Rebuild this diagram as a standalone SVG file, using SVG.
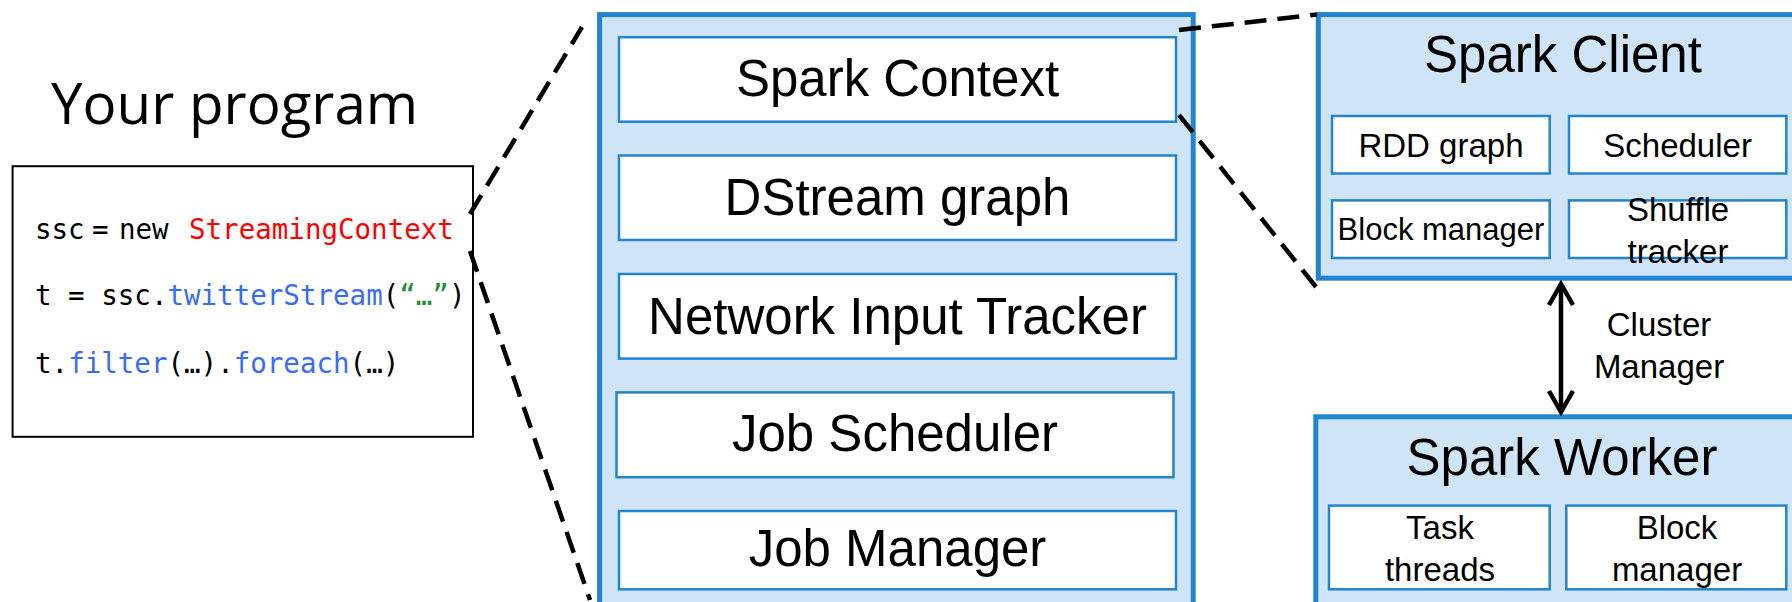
<svg xmlns="http://www.w3.org/2000/svg" width="1792" height="602" viewBox="0 0 1792 602">
<defs>
<style>
.panel{fill:#CFE4F7;stroke:#2384D0;stroke-width:5}
.box{fill:#FFFFFF;stroke:#2384D0;stroke-width:2.5}
.big{font-family:"Liberation Sans",Arial,sans-serif;font-size:51px;fill:#000;text-anchor:middle}
.small{font-family:"Liberation Sans",Arial,sans-serif;font-size:33px;fill:#000;text-anchor:middle}
.code{font-family:"DejaVu Sans Mono","Liberation Mono",monospace;font-size:27.5px;fill:#000}
.red{fill:#FF0000}
.blue{fill:#3A6CF2}
.green{fill:#1E8F3A}
.dash{fill:none;stroke:#000;stroke-width:4.5;stroke-dasharray:22 11}
.arrow{fill:none;stroke:#000;stroke-width:4.5}
</style>
<marker id="chev" viewBox="-26 -15 30 30" refX="0" refY="0" markerWidth="30" markerHeight="30" markerUnits="userSpaceOnUse" orient="auto-start-reverse">
<path d="M -21 -12 L 0 0 L -21 12" fill="none" stroke="#000" stroke-width="4.5"/>
</marker>
</defs>
<rect width="1792" height="602" fill="#FFFFFF"/>

<g id="your-program">
<text x="51" y="123.6" style="font-family:'Open Sans','Noto Sans',sans-serif;font-size:56.5px;fill:#000">Your program</text>
<rect x="12.6" y="166.2" width="460.4" height="270.6" fill="#FFFFFF" stroke="#000" stroke-width="2"/>
<text class="code" y="239.3"><tspan x="35">ssc</tspan><tspan x="92">=</tspan><tspan x="119">new</tspan><tspan x="189" class="red">StreamingContext</tspan></text>
<text class="code" x="35" y="305">t = ssc.<tspan class="blue">twitterStream</tspan>(<tspan class="green">“…”</tspan>)</text>
<text class="code" x="35" y="373.3">t.<tspan class="blue">filter</tspan>(…).<tspan class="blue">foreach</tspan>(…)</text>
</g>

<g id="streaming-context">
<rect class="panel" x="599.6" y="14.6" width="593.6" height="600"/>
<g id="spark-context">
<rect class="box" x="619" y="37.2" width="557" height="84.5"/>
<text class="big" x="897.5" y="96">Spark Context</text>
</g>
<g id="dstream-graph">
<rect class="box" x="619" y="155.5" width="557" height="84.5"/>
<text class="big" x="897.5" y="215">DStream graph</text>
</g>
<g id="network-input-tracker">
<rect class="box" x="619" y="274" width="557" height="84.6"/>
<text class="big" x="897.5" y="333.5">Network Input Tracker</text>
</g>
<g id="job-scheduler">
<rect class="box" x="616.5" y="392.4" width="557" height="84.8"/>
<text class="big" x="895" y="451">Job Scheduler</text>
</g>
<g id="job-manager">
<rect class="box" x="619" y="511" width="557" height="78.3"/>
<text class="big" x="897.5" y="566">Job Manager</text>
</g>
</g>

<g id="spark-client">
<rect class="panel" x="1318.3" y="14.6" width="520" height="263.6"/>
<text class="big" x="1563" y="72">Spark Client</text>
<g id="rdd-graph">
<rect class="box" x="1332" y="116" width="217.7" height="57.5"/>
<text class="small" x="1441" y="156.6">RDD graph</text>
</g>
<g id="scheduler">
<rect class="box" x="1569" y="116" width="217.3" height="57.5"/>
<text class="small" x="1677.6" y="156.6">Scheduler</text>
</g>
<g id="client-block-manager">
<rect class="box" x="1332" y="200.4" width="217.7" height="57.6"/>
<text class="small" x="1441" y="240" style="font-size:31px">Block manager</text>
</g>
<g id="shuffle-tracker">
<rect class="box" x="1569" y="200.4" width="217.3" height="57.6"/>
<text class="small" x="1678" y="221">Shuffle</text>
<text class="small" x="1678" y="263">tracker</text>
</g>
</g>

<g id="spark-worker">
<rect class="panel" x="1315.8" y="416.8" width="520" height="300"/>
<text class="big" x="1562" y="475">Spark Worker</text>
<g id="task-threads">
<rect class="box" x="1329" y="505.6" width="220.7" height="83.7"/>
<text class="small" x="1440" y="539.4">Task</text>
<text class="small" x="1440" y="581">threads</text>
</g>
<g id="worker-block-manager">
<rect class="box" x="1566.3" y="505.6" width="220" height="83.7"/>
<text class="small" x="1677" y="539.4">Block</text>
<text class="small" x="1677" y="581">manager</text>
</g>
</g>

<g id="connectors">
<path class="dash" d="M 470 214 L 582 27"/>
<path class="dash" d="M 470 251 L 590 600"/>
<path class="dash" d="M 1179 30 L 1317 14.6"/>
<path class="dash" d="M 1179 115 L 1316 287"/>
<path class="arrow" d="M 1561 284 L 1561 412" marker-start="url(#chev)" marker-end="url(#chev)"/>
<text class="small" x="1659" y="335.5">Cluster</text>
<text class="small" x="1659" y="378">Manager</text>
</g>
</svg>
